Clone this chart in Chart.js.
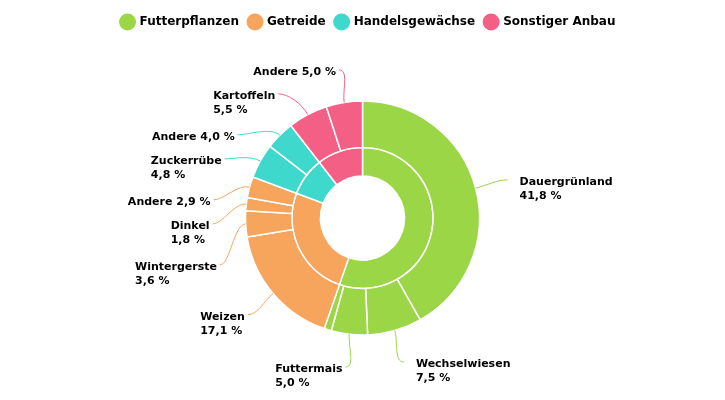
<!DOCTYPE html>
<html>
<head>
<meta charset="utf-8">
<script src="https://cdn.jsdelivr.net/npm/chart.js@4/dist/chart.umd.min.js"></script>
<style>
  html, body { margin: 0; padding: 0; background: #fff; }
  #wrap { width: 725px; height: 400px; }
</style>
</head>
<body>
<div id="wrap"><canvas id="myChart"></canvas></div>
<script>
'use strict'

// Hauptkategorien (innerer Ring)
const categories = ['Futterpflanzen', 'Getreide', 'Handelsgewächse', 'Sonstiger Anbau'];
const categoryValues = [55.3, 25.4, 8.8, 10.5];
const categoryColors = ['#9bd646', '#f7a55d', '#3ed8cc', '#f45f85'];

// Kulturen (äußerer Ring)
const cropLabels = ['Dauergrünland', 'Wechselwiesen', 'Futtermais', 'Andere',
  'Weizen', 'Wintergerste', 'Dinkel', 'Andere',
  'Zuckerrübe', 'Andere', 'Kartoffeln', 'Andere'];
const cropValues = [41.8, 7.5, 5.0, 1.0, 17.1, 3.6, 1.8, 2.9, 4.8, 4.0, 5.5, 5.0];
const cropCategory = [0, 0, 0, 0, 1, 1, 1, 1, 2, 2, 3, 3];

const cropColors = cropCategory.map(c => categoryColors[c]);
const FONT = "'DejaVu Sans', sans-serif";

function fmt(v) {
  return v.toFixed(1).replace('.', ',') + ' %';
}

/* Beschriftungen mit Verbindungslinien um den äußeren Ring */
const outerLabels = {
  id: 'outerLabels',
  afterLayout(chart) {
    // Legende etwas nach rechts, wie im Original
    chart.legend.left += 6;
    chart.legend.right += 6;
  },
  afterDatasetsDraw(chart) {
    const ctx = chart.ctx;
    const meta = chart.getDatasetMeta(0);
    const labelR = 150;
    const items = [];

    meta.data.forEach((arc, i) => {
      const v = cropValues[i];
      if (v < 1.5) return; // zu klein, keine Beschriftung
      const a = (arc.startAngle + arc.endAngle) / 2;
      const R = arc.outerRadius;
      const lines = cropLabels[i] === 'Andere'
        ? [cropLabels[i] + ' ' + fmt(v)]
        : [cropLabels[i], fmt(v)];
      items.push({
        i, a, lines,
        cx: arc.x, cy: arc.y,
        px: arc.x + Math.cos(a) * R,
        py: arc.y + Math.sin(a) * R,
        ly: arc.y + Math.sin(a) * labelR,
        lx: arc.x + Math.cos(a) * labelR,
        left: Math.cos(a) < 0
      });
    });

    // Überlappungen pro Seite auflösen
    [true, false].forEach(side => {
      const list = items.filter(it => it.left === side).sort((p, q) => p.ly - q.ly);
      for (let k = 1; k < list.length; k++) {
        const prev = list[k - 1];
        const gap = prev.lines.length > 1 ? 41 : 24;
        if (list[k].ly < prev.ly + gap) list[k].ly = prev.ly + gap;
      }
      list.forEach(it => {
        const dy = it.ly - it.cy;
        if (Math.abs(dy) < labelR) {
          const dx = Math.sqrt(labelR * labelR - dy * dy);
          it.lx = it.cx + (side ? -dx : dx);
        }
      });
    });

    ctx.save();
    ctx.font = 'bold 11px ' + FONT;
    ctx.textBaseline = 'middle';
    items.forEach(it => {
      const dir = it.left ? 1 : -1;
      const ra = it.a;
      ctx.beginPath();
      ctx.moveTo(it.lx, it.ly);
      ctx.bezierCurveTo(it.lx + dir * 10, it.ly,
        it.px + Math.cos(ra) * 12, it.py + Math.sin(ra) * 12,
        it.px, it.py);
      ctx.strokeStyle = cropColors[it.i];
      ctx.lineWidth = 1;
      ctx.stroke();

      const w = Math.max(...it.lines.map(t => ctx.measureText(t).width));
      const tx = it.left ? it.lx - 3 - w : it.lx + 12;
      ctx.fillStyle = '#000';
      ctx.textAlign = 'left';
      it.lines.forEach((t, k) => {
        ctx.fillText(t, tx, it.ly + 2 + k * 14);
      });
    });
    ctx.restore();
  }
};

const ctx1 = document.getElementById('myChart');

new Chart(ctx1, {
  type: 'doughnut',
  data: {
    labels: cropLabels,
    datasets: [{
      label: 'Kulturen',
      data: cropValues,
      backgroundColor: cropColors,
      borderColor: '#fff',
      borderWidth: 1.5,
      weight: 46.5
    }, {
      label: 'Kategorien',
      data: categoryValues,
      backgroundColor: categoryColors,
      borderColor: '#fff',
      borderWidth: 1.5,
      weight: 28.5
    }]
  },
  options: {
    responsive: true,
    maintainAspectRatio: false,
    animation: false,
    radius: 117,
    cutout: '35.9%',
    layout: {
      padding: { top: 6, bottom: 2 }
    },
    plugins: {
      tooltip: { enabled: false },
      legend: {
        position: 'top',
        labels: {
          usePointStyle: true,
          pointStyle: 'circle',
          boxWidth: 12,
          boxHeight: 12,
          padding: 10,
          color: '#333',
          font: { family: FONT, size: 12, weight: 'bold' },
          generateLabels: () => categories.map((c, i) => ({
            text: c,
            fillStyle: categoryColors[i],
            strokeStyle: categoryColors[i],
            lineWidth: 0,
            pointStyle: 'circle',
            hidden: false,
            index: i
          }))
        }
      }
    }
  },
  plugins: [outerLabels]
});
</script>
</body>
</html>
